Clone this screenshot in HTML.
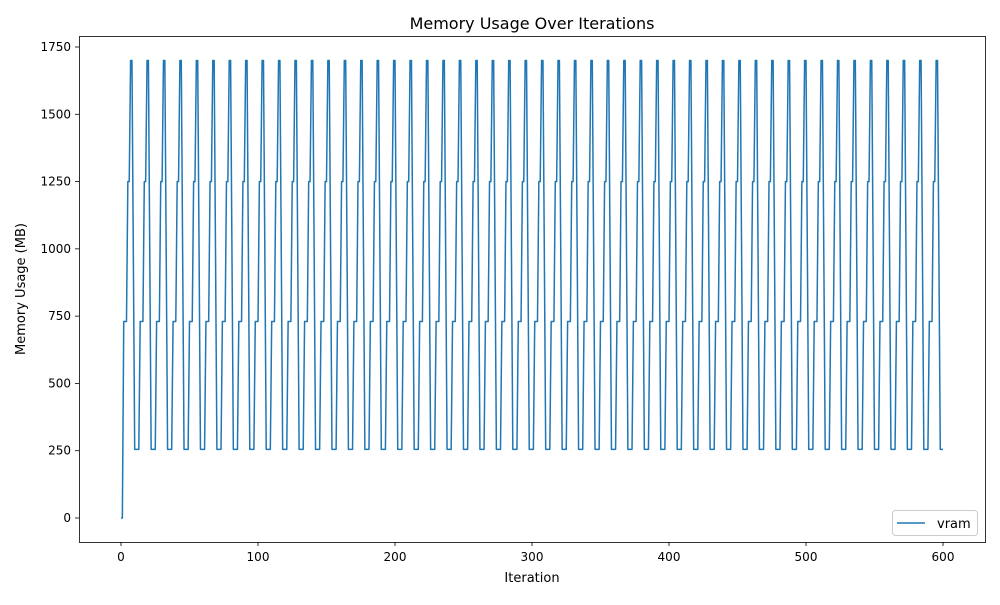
<!DOCTYPE html>
<html><head><meta charset="utf-8"><style>
body{margin:0;background:#fff}
svg text{font-family:"DejaVu Sans","Liberation Sans",sans-serif;fill:#000}
</style></head><body>
<svg id="s" width="1000" height="600" xmlns="http://www.w3.org/2000/svg">
<rect width="1000" height="600" fill="#fff"/>
<text x="532" y="29" font-size="16" text-anchor="middle">Memory Usage Over Iterations</text>
<g id="ticks" font-size="12"></g>
<path id="p" fill="none" stroke="#1f77b4" stroke-width="1.5" stroke-linejoin="round"/>
<rect x="79.5" y="36.5" width="906" height="506" fill="none" stroke="#000" stroke-width="0.8"/>
<text x="532" y="582" font-size="13" text-anchor="middle">Iteration</text>
<text x="25" y="289" font-size="13" text-anchor="middle" transform="rotate(-90 25 289)">Memory Usage (MB)</text>
<rect x="892.5" y="510.5" width="85" height="25" rx="3" fill="#fff" stroke="#ccc"/>
<line x1="897" y1="523" x2="925" y2="523" stroke="#1f77b4" stroke-width="1.5"/>
<text x="937" y="528" font-size="13">vram</text>
</svg>
<script>
var X=i=>121+i*1.37, Y=v=>518-v*0.26914;
var c=[730,730,730,1250,1250,1700,1700,980,255,255,255,255];
var d="";
for(var i=0;i<=600;i++){var v=i<2?0:c[(i-2)%12];d+=(i?"L":"M")+X(i).toFixed(2)+" "+Y(v).toFixed(2);}
document.getElementById("p").setAttribute("d",d);
var g=document.getElementById("ticks"),h="";
for(var t=0;t<=600;t+=100){var x=X(t);h+='<line x1="'+x+'" y1="542" x2="'+x+'" y2="546" stroke="#000" stroke-width="0.8"/><text x="'+x+'" y="561" text-anchor="middle">'+t+'</text>';}
for(var v=0;v<=1750;v+=250){var y=Y(v);h+='<line x1="75" y1="'+y+'" x2="79" y2="'+y+'" stroke="#000" stroke-width="0.8"/><text x="71" y="'+(y+4)+'" text-anchor="end">'+v+'</text>';}
g.innerHTML=h;
</script>
</body></html>
